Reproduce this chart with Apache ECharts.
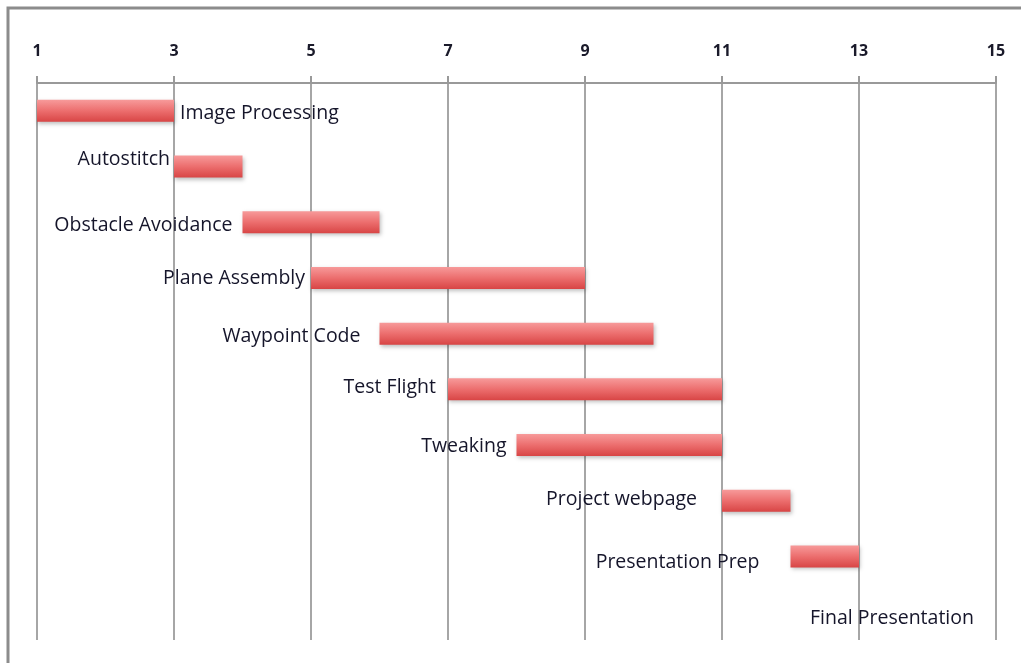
<!DOCTYPE html>
<html>
<head>
<meta charset="utf-8">
<script src="https://cdn.jsdelivr.net/npm/echarts@6/dist/echarts.min.js"></script>
<style>
  html, body { margin: 0; padding: 0; background: #fff; }
  #chart { width: 1021px; height: 663px; }
</style>
</head>
<body>
<div id="chart"></div>
<script>
// task names, top to bottom
const tasks = ['Image Processing', 'Autostitch', 'Obstacle Avoidance', 'Plane Assembly',
  'Waypoint Code', 'Test Flight', 'Tweaking', 'Project webpage', 'Presentation Prep',
  'Final Presentation']
// start week and length in weeks
const starts = [1, 3, 4, 5, 6, 7, 8, 11, 12, 13]
const durations = [2, 1, 2, 4, 4, 4, 3, 1, 1, 0]
const tickValues = [1, 3, 5, 7, 9, 11, 13, 15]

// where each label sits next to its bar: [side, gap, dy]
const labelPlace = [
  ['right', 6, 3], ['left', 4, -7], ['left', 10, 3], ['left', 6, 0], ['left', 19, 3],
  ['left', 12, -2], ['left', 10, 1], ['left', 25, -1], ['left', 31, 6], ['right', -49, 6]
]

let chart = echarts.init(document.getElementById('chart'))

let barColor = new echarts.graphic.LinearGradient(0, 0, 0, 1, [
  { offset: 0, color: '#f79a9a' },
  { offset: 0.5, color: '#ec6e6e' },
  { offset: 1, color: '#d84545' }
])

let durationData = durations.map((d, i) => ({
  value: d,
  label: {
    position: labelPlace[i][0],
    distance: labelPlace[i][1],
    offset: [0, labelPlace[i][2]]
  }
}))

let option = {
  animation: false,
  backgroundColor: '#fff',
  textStyle: { fontFamily: '"Open Sans", sans-serif' },
  graphic: [
    {
      type: 'polyline',
      shape: { points: [[8, 663], [8, 8], [1021, 8]] },
      style: { stroke: '#8c8c8c', lineWidth: 3, fill: null }
    }
  ],
  grid: { left: 37, right: 25, top: 83, bottom: 23 },
  xAxis: {
    type: 'value',
    position: 'top',
    min: tickValues[0],
    max: tickValues[tickValues.length - 1],
    interval: 2,
    axisLine: { show: true, lineStyle: { color: '#999', width: 2 } },
    axisTick: { show: true, length: 7, lineStyle: { color: '#999', width: 2 } },
    axisLabel: {
      margin: 24,
      color: '#1a1a2a',
      fontWeight: 'bold',
      fontSize: 16,
      fontFamily: '"Open Sans", sans-serif'
    },
    splitLine: { show: true, lineStyle: { color: '#a6a6a6', width: 2 } }
  },
  yAxis: {
    type: 'category',
    inverse: true,
    data: tasks,
    show: false
  },
  series: [
    {
      name: 'start',
      type: 'bar',
      stack: 'gantt',
      barWidth: 22,
      itemStyle: { color: 'transparent' },
      data: starts
    },
    {
      name: 'duration',
      type: 'bar',
      stack: 'gantt',
      barWidth: 22,
      itemStyle: {
        color: barColor,
        shadowColor: 'rgba(0,0,0,0.25)',
        shadowBlur: 4,
        shadowOffsetX: 1,
        shadowOffsetY: 2
      },
      label: {
        show: true,
        formatter: p => tasks[p.dataIndex],
        color: '#15152a',
        fontSize: 19.5,
        fontFamily: '"Open Sans", sans-serif'
      },
      data: durationData
    }
  ]
}

chart.setOption(option)
</script>
</body>
</html>
